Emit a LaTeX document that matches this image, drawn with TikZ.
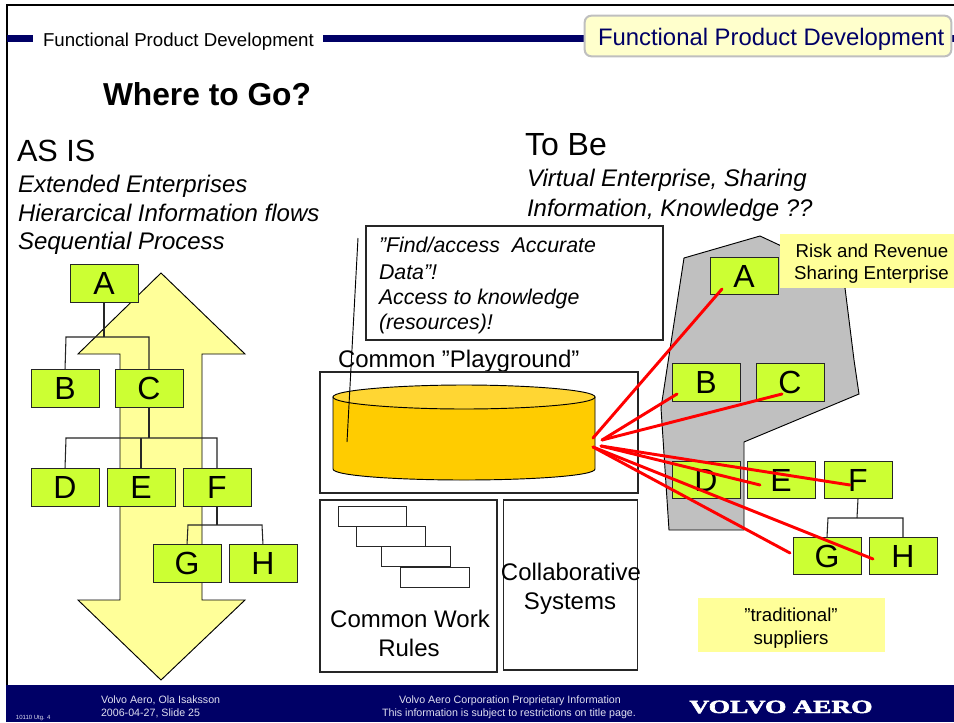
\documentclass[tikz,border=0pt]{standalone}
\usepackage{fontspec}
\setmainfont{Liberation Sans}
\newfontfamily\logofont[BoldFeatures={FakeBold=2.5}]{Liberation Serif}
\definecolor{navy}{HTML}{000066}
\definecolor{paleY}{HTML}{FFFF99}
\definecolor{titleY}{HTML}{FFFFCC}
\definecolor{boxG}{HTML}{CCFF33}
\definecolor{canF}{HTML}{FFCC00}
\definecolor{canT}{HTML}{FFD633}
\definecolor{shapeG}{HTML}{C0C0C0}
\definecolor{footT}{HTML}{E0E0F0}
\newcommand{\fs}[1]{\fontsize{#1}{#1}\selectfont}
\tikzset{
  every node/.style={inner sep=0pt,outer sep=0pt},
  txt/.style={anchor=base west,text=black},
  gbox/.style={draw=black!85,fill=boxG,line width=0.75pt,minimum width=51pt,minimum height=28pt,font=\fs{24}},
  plainbox/.style={draw=black!85,fill=white,line width=0.8pt},
  tree/.style={draw=black!85,line width=0.8pt},
  redline/.style={draw=red,line width=2.2pt,line cap=round},
  foot/.style={anchor=base west,text=footT,font=\fs{8.0}},
  footc/.style={anchor=base,text=footT,font=\fs{8.0}},
  band/.style={fill=navy,draw=none},
}
\begin{document}
\begin{tikzpicture}[x=0.75pt,y=-0.75pt]
\useasboundingbox (0,0) rectangle (954,722);
\fill[white] (0,0) rectangle (954,722);
% frame
\draw[black,line width=1.6pt] (7,685) -- (7,5) -- (954,5);
% header
\fill[band] (7,35) rectangle (33,42);
\fill[band] (323,35) rectangle (590,42);
\fill[band] (950,35) rectangle (954,42);
\node[draw=black!25,line width=1.5pt,fill=titleY,rounded corners=5pt,minimum width=275pt,minimum height=30.5pt] (titlebox) at (768,36) {};
\node[txt,font=\fs{17.9},text=navy] (titleR) at (598,45) {Functional Product Development};
\node[txt,font=\fs{14}] (titleL) at (43,46) {Functional Product Development};
\node[txt,font=\bfseries\fs{23.8}] (where) at (103,105) {Where to Go?};
\node[txt,font=\fs{23}] (asis) at (17,161) {AS IS};
\node[txt,font=\itshape\fs{18}] (asis1) at (18,192) {Extended Enterprises};
\node[txt,font=\itshape\fs{18}] (asis2) at (18,221) {Hierarcical Information flows};
\node[txt,font=\itshape\fs{18}] (asis3) at (18,249) {Sequential Process};
\node[txt,font=\fs{24}] (tobe) at (525,155) {To Be};
\node[txt,font=\itshape\fs{18}] (tobe1) at (527,186) {Virtual Enterprise, Sharing};
\node[txt,font=\itshape\fs{18}] (tobe2) at (527,216) {Information, Knowledge ??};
% double arrow
\filldraw[fill=paleY,draw=black,line width=0.7pt] (161,273) -- (245,354) -- (202,354) -- (202,600) -- (245,600) -- (161,680) -- (78,600) -- (120,600) -- (120,354) -- (78,354) -- cycle;
% left tree boxes
\node[gbox] (A) at (104,283.5) {A};
\node[gbox] (B) at (65,388.5) {B};
\node[gbox] (C) at (149,388.5) {C};
\node[gbox] (D) at (65,487.5) {D};
\node[gbox] (E) at (141,487.5) {E};
\node[gbox] (F) at (217,487.5) {F};
\node[gbox] (G) at (187,563.5) {G};
\node[gbox] (H) at (263,563.5) {H};
\draw[tree] (A.south) -- (104,337);
\draw[tree] (B.north) -- (66,337) -- (149,337) -- (C.north);
\draw[tree] (C.south) -- (149,438);
\draw[tree] (D.north) -- (66,438) -- (217,438) -- (F.north);
\draw[tree] (141,438) -- (E.north);
\draw[tree] (F.south) -- (217,525);
\draw[tree] (G.north) -- (188,525) -- (262,525) -- (H.north);
% callout
\node[plainbox,minimum width=222.75pt,minimum height=85.5pt] (callout) at (514.5,283) {};
\node[txt,font=\itshape\fs{16}] (call1) at (379,252) {”Find/access\ \ Accurate};
\node[txt,font=\itshape\fs{16}] (call2) at (379,279) {Data”!};
\node[txt,font=\itshape\fs{16}] (call3) at (379,304) {Access to knowledge};
\node[txt,font=\itshape\fs{16}] (call4) at (379,329) {(resources)!};
\node[txt,font=\fs{18}] (pg) at (338,367) {Common ”Playground”};
% playground
\node[plainbox,minimum width=238.5pt,minimum height=90.75pt] (pgbox) at (479,432.5) {};
\filldraw[fill=canF,draw=black,line width=0.7pt] (333,397) -- (333,469) .. controls (333,476) and (400,480) .. (464,480) .. controls (528,480) and (595,476) .. (595,469) -- (595,397) -- cycle;
\filldraw[fill=canT,draw=black,line width=0.7pt] (333,397) .. controls (333,390) and (400,385) .. (464,385) .. controls (528,385) and (595,390) .. (595,397) .. controls (595,404) and (528,409) .. (464,409) .. controls (400,409) and (333,404) .. (333,397) -- cycle;
\coordinate (calloutTop) at (358,238);
\coordinate (calloutEnd) at (347,442);
\draw[black,line width=0.7pt] (calloutTop) -- (calloutEnd);
% work rules
\node[plainbox,minimum width=132.75pt,minimum height=129pt] (rules) at (408.5,586) {};
\node[plainbox,minimum width=51.5pt,minimum height=15pt] (s1) at (372.5,516.5) {};
\node[plainbox,minimum width=51.5pt,minimum height=15pt] (s2) at (391,536.5) {};
\node[plainbox,minimum width=51.5pt,minimum height=15pt] (s3) at (416,556.5) {};
\node[plainbox,minimum width=51.5pt,minimum height=15pt] (s4) at (435,577.5) {};
\node[anchor=base,font=\fs{18}] (r1) at (410,627) {Common Work};
\node[anchor=base,font=\fs{18}] (r2) at (409,656) {Rules};
\node[plainbox,minimum width=100pt,minimum height=127.5pt] (collab) at (570.5,585) {};
\node[anchor=base,font=\fs{18}] (c1) at (571,580) {Collaborative};
\node[anchor=base,font=\fs{18}] (c2) at (570,609) {Systems};
% gray enterprise
\filldraw[fill=shapeG,draw=black,line width=0.7pt] (684,258) -- (760,236) -- (790,250) -- (845,288) -- (854,360) -- (859,394) -- (744,442) -- (744,530) -- (669,530) -- (661,408) -- cycle;
\node[fill=paleY,minimum width=130.5pt,minimum height=40.5pt] (risk) at (867,261) {};
\node[anchor=base,font=\fs{14}] (risk1) at (872,257) {Risk and Revenue};
\node[anchor=base,font=\fs{14}] (risk2) at (871.5,279) {Sharing Enterprise};
% right boxes
\node[gbox] (rA) at (744,276) {A};
\node[gbox] (rB) at (706,382.5) {B};
\node[gbox] (rC) at (790,382.5) {C};
\node[gbox] (rD) at (706,480) {D};
\node[gbox] (rE) at (781,480) {E};
\node[gbox] (rF) at (858,480) {F};
\node[gbox] (rG) at (827,556) {G};
\node[gbox] (rH) at (903,556) {H};
\draw[tree] (rF.south) -- (857,518);
\draw[tree] (rG.north) -- (828,518) -- (903,518) -- (rH.north);
\node[fill=paleY,minimum width=140pt,minimum height=40.5pt] (trad) at (791.5,625) {};
\node[anchor=base,font=\fs{14}] (t1) at (791,621) {”traditional”};
\node[anchor=base,font=\fs{14}] (t2) at (791,644) {suppliers};
% red connectors
\coordinate (hubA) at (593,438);
\coordinate (hubB) at (602,440);
\coordinate (hubC) at (601,446);
\coordinate (hubD) at (593,447);
\coordinate (endA) at (722,289);
\coordinate (endB) at (677,394);
\coordinate (endC) at (782,394);
\coordinate (endE) at (760,485);
\coordinate (endF) at (850,485);
\coordinate (endG) at (790,553);
\coordinate (endH) at (873,559);
\draw[redline] (hubA) -- (endA);
\draw[redline] (hubB) -- (endB);
\draw[redline] (hubB) -- (endC);
\draw[redline] (hubC) -- (endE);
\draw[redline] (hubC) -- (endF);
\draw[redline] (hubD) -- (endG);
\draw[redline] (hubD) -- (endH);
% footer
\fill[band] (6,685) rectangle (954,722);
\node[foot] (f1) at (101,703) {Volvo Aero, Ola Isaksson};
\node[foot] (f2) at (101,716) {2006-04-27, Slide 25};
\node[footc] (f3) at (510,703) {Volvo Aero Corporation Proprietary Information};
\node[footc] (f4) at (509,716) {This information is subject to restrictions on title page.};
\node[anchor=base west,text=footT,font=\fs{4.5}] (f5) at (16,719) {10110 Utg. 4};
\node[anchor=base,text=white,font=\logofont\bfseries\fs{14},xscale=1.47,transform shape] (logo) at (781,713) {VOLVO AERO};
\end{tikzpicture}
\end{document}
